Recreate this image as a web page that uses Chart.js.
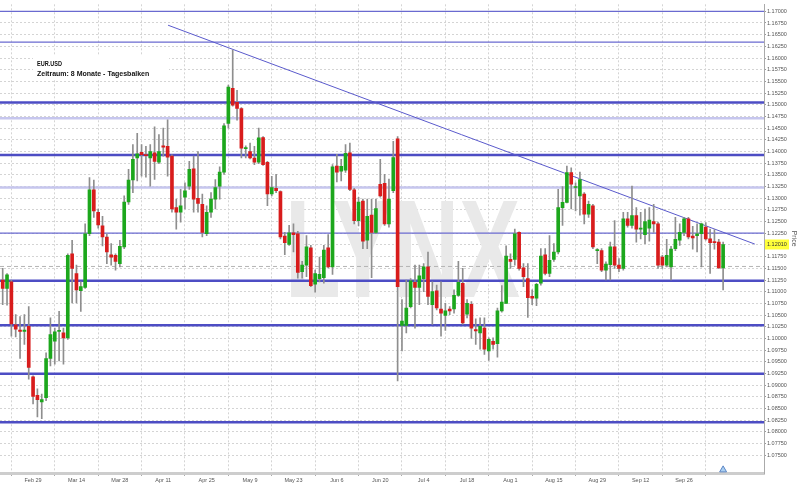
<!DOCTYPE html>
<html lang="de">
<head>
<meta charset="UTF-8">
<title>EUR.USD Tagesbalken</title>
<script src="https://cdn.jsdelivr.net/npm/chart.js"></script>
<style>
  html, body { margin: 0; padding: 0; background: #fff; }
  #wrap { width: 800px; height: 486px; }
</style>
</head>
<body>
<div id="wrap"><canvas id="chart"></canvas></div>
<script>
// Tageskerzen EUR.USD, Index 0 = 18. Feb (nur Werktage)
const opens = [
  1.1125, 1.1107, 1.1121, 1.1029, 1.1018, 1.1015, 1.1026, 1.0918, 1.0878, 1.0864,
  1.0873, 1.0957, 1.0994, 1.1015, 1.1012, 1.1001, 1.1181, 1.1139, 1.1102, 1.1109,
  1.1224, 1.1318, 1.1270, 1.1241, 1.1217, 1.1179, 1.1178, 1.1160, 1.1196, 1.1292,
  1.1339, 1.1386, 1.1398, 1.1392, 1.1386, 1.1397, 1.1377, 1.1412, 1.1411, 1.1390,
  1.1280, 1.1270, 1.1302, 1.1326, 1.1363, 1.1300, 1.1287, 1.1224, 1.1270, 1.1298,
  1.1326, 1.1356, 1.1460, 1.1535, 1.1505, 1.1492, 1.1406, 1.1400, 1.1386, 1.1377,
  1.1430, 1.1377, 1.1309, 1.1321, 1.1314, 1.1219, 1.1201, 1.1226, 1.1224, 1.1143,
  1.1157, 1.1194, 1.1116, 1.1128, 1.1130, 1.1194, 1.1153, 1.1369, 1.1358, 1.1360,
  1.1397, 1.1318, 1.1252, 1.1294, 1.1210, 1.1264, 1.1227, 1.1330, 1.1332, 1.1245,
  1.1316, 1.1427, 1.1028, 1.1028, 1.1068, 1.1120, 1.1109, 1.1128, 1.1153, 1.1072,
  1.1102, 1.1063, 1.1049, 1.1063, 1.1063, 1.1092, 1.1118, 1.1052, 1.1073, 1.1019,
  1.1012, 1.1022, 1.0973, 1.0994, 1.0989, 1.1059, 1.1075, 1.1169, 1.1169, 1.1227,
  1.1151, 1.1128, 1.1090, 1.1086, 1.1118, 1.1179, 1.1139, 1.1169, 1.1185, 1.1280,
  1.1291, 1.1355, 1.1323, 1.1305, 1.1309, 1.1266, 1.1284, 1.1188, 1.1188, 1.1146,
  1.1158, 1.1196, 1.1157, 1.1150, 1.1256, 1.1242, 1.1263, 1.1234, 1.1222, 1.1236,
  1.1250, 1.1245, 1.1174, 1.1157, 1.1153, 1.1192, 1.1210, 1.1227, 1.1256, 1.1219,
  1.1220, 1.1224, 1.1238, 1.1213, 1.1207, 1.1206, 1.1151
];
const highs = [
  1.1150, 1.1139, 1.1125, 1.1051, 1.1047, 1.1051, 1.1068, 1.0920, 1.0892, 1.0881,
  1.0969, 1.1044, 1.1022, 1.1058, 1.1022, 1.1181, 1.1210, 1.1157, 1.1121, 1.1245,
  1.1344, 1.1339, 1.1277, 1.1261, 1.1224, 1.1203, 1.1181, 1.1210, 1.1305, 1.1362,
  1.1415, 1.1439, 1.1415, 1.1411, 1.1415, 1.1453, 1.1436, 1.1450, 1.1468, 1.1393,
  1.1298, 1.1319, 1.1333, 1.1379, 1.1390, 1.1400, 1.1309, 1.1284, 1.1312, 1.1340,
  1.1367, 1.1460, 1.1542, 1.1617, 1.1531, 1.1494, 1.1412, 1.1418, 1.1411, 1.1450,
  1.1432, 1.1379, 1.1347, 1.1351, 1.1316, 1.1227, 1.1242, 1.1245, 1.1229, 1.1165,
  1.1220, 1.1199, 1.1146, 1.1174, 1.1199, 1.1222, 1.1372, 1.1394, 1.1383, 1.1415,
  1.1418, 1.1321, 1.1302, 1.1298, 1.1298, 1.1298, 1.1298, 1.1383, 1.1351, 1.1341,
  1.1422, 1.1432, 1.1083, 1.1125, 1.1128, 1.1157, 1.1157, 1.1160, 1.1185, 1.1121,
  1.1114, 1.1121, 1.1075, 1.1068, 1.1104, 1.1165, 1.1150, 1.1083, 1.1079, 1.1042,
  1.1044, 1.1044, 1.1001, 1.1001, 1.1065, 1.1113, 1.1198, 1.1181, 1.1234, 1.1228,
  1.1160, 1.1160, 1.1104, 1.1118, 1.1192, 1.1192, 1.1220, 1.1203, 1.1319, 1.1325,
  1.1369, 1.1365, 1.1333, 1.1356, 1.1312, 1.1294, 1.1287, 1.1192, 1.1192, 1.1164,
  1.1206, 1.1252, 1.1171, 1.1270, 1.1270, 1.1326, 1.1280, 1.1270, 1.1277, 1.1280,
  1.1287, 1.1249, 1.1178, 1.1212, 1.1197, 1.1259, 1.1245, 1.1259, 1.1259, 1.1240,
  1.1245, 1.1247, 1.1248, 1.1234, 1.1233, 1.1212, 1.1206
];
const lows = [
  1.1072, 1.1071, 1.1005, 1.1003, 1.0957, 1.0987, 1.0913, 1.0860, 1.0832, 1.0828,
  1.0867, 1.0941, 1.0945, 1.0952, 1.0945, 1.0998, 1.1076, 1.1076, 1.1058, 1.1107,
  1.1220, 1.1259, 1.1236, 1.1198, 1.1160, 1.1157, 1.1146, 1.1153, 1.1192, 1.1287,
  1.1312, 1.1337, 1.1347, 1.1345, 1.1326, 1.1340, 1.1374, 1.1390, 1.1347, 1.1270,
  1.1234, 1.1249, 1.1277, 1.1319, 1.1270, 1.1270, 1.1217, 1.1220, 1.1259, 1.1277,
  1.1298, 1.1351, 1.1450, 1.1497, 1.1467, 1.1386, 1.1386, 1.1384, 1.1372, 1.1374,
  1.1370, 1.1284, 1.1305, 1.1312, 1.1213, 1.1179, 1.1199, 1.1185, 1.1129, 1.1129,
  1.1132, 1.1111, 1.1099, 1.1121, 1.1118, 1.1151, 1.1137, 1.1335, 1.1337, 1.1355,
  1.1316, 1.1245, 1.1241, 1.1192, 1.1192, 1.1130, 1.1224, 1.1302, 1.1242, 1.1238,
  1.1312, 1.0909, 1.0973, 1.1012, 1.1065, 1.1022, 1.1072, 1.1100, 1.1072, 1.1030,
  1.1061, 1.1005, 1.1017, 1.1051, 1.1054, 1.1090, 1.1030, 1.1044, 1.1000, 1.0987,
  1.0977, 1.0966, 1.0953, 1.0977, 1.0960, 1.1056, 1.1075, 1.1150, 1.1157, 1.1146,
  1.1111, 1.1045, 1.1072, 1.1070, 1.1114, 1.1136, 1.1132, 1.1165, 1.1181, 1.1242,
  1.1290, 1.1277, 1.1273, 1.1264, 1.1245, 1.1259, 1.1192, 1.1160, 1.1143, 1.1125,
  1.1125, 1.1150, 1.1143, 1.1146, 1.1238, 1.1236, 1.1206, 1.1213, 1.1203, 1.1208,
  1.1227, 1.1150, 1.1150, 1.1153, 1.1125, 1.1188, 1.1199, 1.1220, 1.1213, 1.1191,
  1.1185, 1.1153, 1.1210, 1.1139, 1.1191, 1.1150, 1.1104
];
const closes = [
  1.1107, 1.1136, 1.1031, 1.1020, 1.1015, 1.1018, 1.0938, 1.0876, 1.0869, 1.0869,
  1.0957, 1.1008, 1.1014, 1.1017, 1.1001, 1.1178, 1.1150, 1.1104, 1.1111, 1.1224,
  1.1318, 1.1273, 1.1243, 1.1217, 1.1185, 1.1174, 1.1165, 1.1197, 1.1292, 1.1339,
  1.1383, 1.1395, 1.1393, 1.1391, 1.1400, 1.1379, 1.1400, 1.1409, 1.1388, 1.1277,
  1.1270, 1.1284, 1.1316, 1.1362, 1.1298, 1.1289, 1.1227, 1.1270, 1.1298, 1.1323,
  1.1356, 1.1455, 1.1538, 1.1499, 1.1492, 1.1407, 1.1408, 1.1386, 1.1377, 1.1429,
  1.1372, 1.1309, 1.1323, 1.1316, 1.1217, 1.1205, 1.1226, 1.1222, 1.1141, 1.1157,
  1.1196, 1.1113, 1.1139, 1.1137, 1.1189, 1.1153, 1.1367, 1.1356, 1.1368, 1.1396,
  1.1319, 1.1252, 1.1292, 1.1208, 1.1261, 1.1227, 1.1278, 1.1305, 1.1245, 1.1298,
  1.1387, 1.1111, 1.1037, 1.1065, 1.1123, 1.1109, 1.1134, 1.1153, 1.1090, 1.1100,
  1.1065, 1.1054, 1.1059, 1.1059, 1.1092, 1.1120, 1.1033, 1.1075, 1.1022, 1.1016,
  1.1026, 1.0977, 1.0998, 1.0987, 1.1059, 1.1078, 1.1176, 1.1165, 1.1224, 1.1150,
  1.1132, 1.1087, 1.1086, 1.1116, 1.1176, 1.1139, 1.1167, 1.1185, 1.1280, 1.1291,
  1.1355, 1.1330, 1.1325, 1.1340, 1.1266, 1.1287, 1.1196, 1.1190, 1.1146, 1.1159,
  1.1196, 1.1157, 1.1150, 1.1256, 1.1242, 1.1263, 1.1234, 1.1236, 1.1250, 1.1253,
  1.1245, 1.1157, 1.1157, 1.1178, 1.1191, 1.1212, 1.1227, 1.1256, 1.1217, 1.1215,
  1.1224, 1.1245, 1.1213, 1.1205, 1.1205, 1.1151, 1.1201
];

// Datumsachse: Index der Kerze -> Beschriftung
const tickIdx = [7, 17, 27, 37, 47, 57, 67, 77, 87, 97, 107, 117, 127, 137, 147, 157];
const tickLabels = ['Feb 29', 'Mar 14', 'Mar 28', 'Apr 11', 'Apr 25', 'May 9', 'May 23', 'Jun 6',
  'Jun 20', 'Jul 4', 'Jul 18', 'Aug 1', 'Aug 15', 'Aug 29', 'Sep 12', 'Sep 26'];

// horizontale Linien (Unterstuetzung / Widerstand)
const strongLevels = [1.1505, 1.13927, 1.11235, 1.10281, 1.09243, 1.08204];
const lightLevels = [1.1471, 1.13227];
const thinLevels = [1.1700, 1.1634, 1.12252];
const prevClose = 1.1154;
const lastPrice = 1.12010;

// Abwaertstrend: [Index, Kurs]
const trendLine = [[38.1, 1.16703], [173.3, 1.12019]];
const marker = [166, 1.07187];

const X_MIN = -0.62, X_MAX = 175.42;
const GREEN = '#1ca71c', RED = '#d81c1c', WICK = '#8e8e8e';
const FONT = 'Liberation Sans, Arial, sans-serif';

function levelSet(list, color, width, dash) {
  return list.map(p => ({
    type: 'line',
    data: [{x: X_MIN, y: p}, {x: X_MAX, y: p}],
    borderColor: color,
    borderWidth: width,
    borderDash: dash || [],
    pointRadius: 0,
    order: 3
  }));
}

const decor = {
  id: 'decor',
  beforeDatasetsDraw(chart) {
    // LYNX Wasserzeichen
    const ctx = chart.ctx;
    ctx.save();
    ctx.font = 'bold 140px ' + FONT;
    const w = ctx.measureText('LYNX').width;
    ctx.translate(285, 297);
    ctx.scale(235 / w, 1);
    ctx.fillStyle = '#e9e9e9';
    ctx.textBaseline = 'alphabetic';
    ctx.fillText('LYNX', 0, 0);
    ctx.restore();
  },
  afterDraw(chart) {
    const ctx = chart.ctx;
    const y = chart.scales.y;
    ctx.save();
    // Titelbox
    ctx.fillStyle = '#fff';
    ctx.fillRect(33, 55, 136, 24);
    ctx.fillStyle = '#111';
    ctx.font = 'bold 7px ' + FONT;
    ctx.textBaseline = 'alphabetic';
    ctx.fillText('EUR.USD', 37, 65.5, 25);
    ctx.fillText('Zeitraum: 8 Monate - Tagesbalken', 37, 76, 127);
    // aktueller Kurs
    const py = y.getPixelForValue(lastPrice);
    ctx.fillStyle = '#ffff3a';
    ctx.fillRect(765, py - 5, 24, 10);
    ctx.fillStyle = '#333';
    ctx.font = '5.5px ' + FONT;
    ctx.textBaseline = 'middle';
    ctx.fillText(lastPrice.toFixed(5), 767, py);
    ctx.restore();
  }
};

new Chart(document.getElementById('chart'), {
  type: 'bar',
  data: {
    datasets: [
      {
        label: 'Körper',
        data: opens.map((o, i) => ({x: i, y: [o, closes[i]]})),
        backgroundColor: ctx => closes[ctx.dataIndex] >= opens[ctx.dataIndex] ? GREEN : RED,
        barThickness: 3,
        minBarLength: 1,
        grouped: false,
        order: 0
      },
      {
        label: 'Docht',
        data: lows.map((l, i) => ({x: i, y: [l, highs[i]]})),
        backgroundColor: WICK,
        barThickness: 1,
        grouped: false,
        order: 1
      },
      {
        type: 'line',
        data: trendLine.map(p => ({x: p[0], y: p[1]})),
        borderColor: '#5a5acc',
        borderWidth: 1,
        pointRadius: 0,
        order: 2
      },
      ...levelSet(strongLevels, '#4d4dc4', 2.5),
      ...levelSet(lightLevels, '#c6c6ee', 2.5),
      ...levelSet(thinLevels, '#6a6ad0', 1.2),
      ...levelSet([prevClose], '#b4b4b4', 1, [4, 3]),
      {
        type: 'scatter',
        data: [{x: marker[0], y: marker[1]}],
        pointStyle: 'triangle',
        pointRadius: 4,
        backgroundColor: '#a9cff2',
        borderColor: '#5d86c4',
        borderWidth: 1,
        clip: false,
        order: 0
      }
    ]
  },
  options: {
    responsive: true,
    maintainAspectRatio: false,
    animation: false,
    layout: { padding: 0, autoPadding: false },
    plugins: { legend: { display: false }, tooltip: { enabled: false } },
    scales: {
      x: {
        type: 'linear',
        min: X_MIN,
        max: X_MAX,
        offset: false,
        afterBuildTicks: axis => { axis.ticks = tickIdx.map(v => ({value: v})); },
        afterFit: axis => { axis.height = 13; },
        ticks: {
          autoSkip: false,
          maxRotation: 0,
          padding: 1,
          color: '#555',
          font: { family: FONT, size: 5.5 },
          callback: v => tickLabels[tickIdx.indexOf(v)]
        },
        grid: { color: '#d4d4d4', tickLength: 3, tickColor: '#aaa' },
        border: { color: '#cdcdcd', width: 3, dash: [2, 2] }
      },
      y: {
        type: 'linear',
        position: 'right',
        min: 1.0712,
        max: 1.1715,
        afterBuildTicks: axis => {
          axis.ticks = axis.ticks.filter(t => Math.abs(t.value * 400 - Math.round(t.value * 400)) < 1e-6);
        },
        afterFit: axis => { axis.width = 36; },
        ticks: {
          stepSize: 0.0025,
          padding: 1,
          color: '#555',
          font: { family: FONT, size: 5.5 },
          callback: v => Math.abs(v - 1.12) < 1e-6 ? '' : v.toFixed(5)
        },
        grid: { color: '#d4d4d4', tickLength: 2, tickColor: '#999' },
        border: { color: '#aaa', width: 1, dash: [2, 2] },
        title: {
          display: true,
          text: 'Price',
          color: '#555',
          padding: { top: 2, bottom: 0 },
          font: { family: FONT, size: 7 }
        }
      }
    }
  },
  plugins: [decor]
});
</script>
</body>
</html>
